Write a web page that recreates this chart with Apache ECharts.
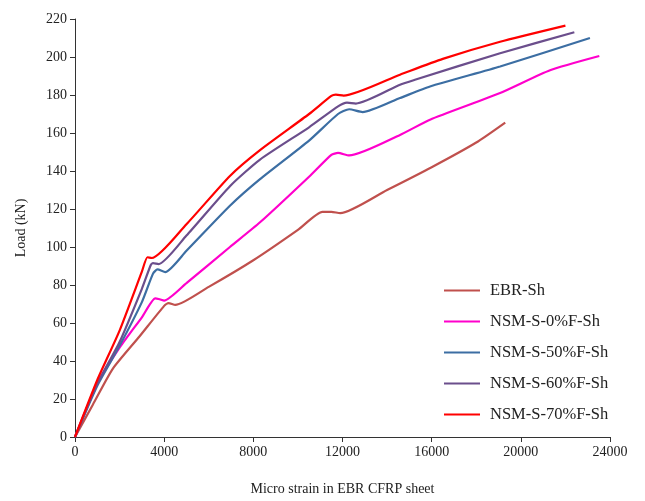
<!DOCTYPE html>
<html><head><meta charset="utf-8">
<script src="https://cdn.jsdelivr.net/npm/echarts@6/dist/echarts.min.js"></script>
<style>html,body{margin:0;padding:0;background:#fff}#c{width:645px;height:501px}</style>
</head><body><div id="c"></div>
<script>
var seriesNames = ['EBR-Sh','NSM-S-0%F-Sh','NSM-S-50%F-Sh','NSM-S-60%F-Sh','NSM-S-70%F-Sh'];
var xTicks = [0,4000,8000,12000,16000,20000,24000];
var yTicks = [0,20,40,60,80,100,120,140,160,180,200,220];
var ebr = [[0,0],[800,17],[1700,36],[2900,53],[4000,69],[4200,70.5],[4500,69.5],[6000,79],[8000,93],[10000,109],[11100,118.5],[11500,118.5],[11900,117.8],[14000,130],[16000,142],[18000,155],[19300,165.5]];
var nsm0 = [[0,0],[1000,28],[2000,47],[3000,63],[3600,73],[3800,72.5],[4000,71.8],[5000,81],[6950,100],[8300,113],[10500,137],[11500,148.5],[11800,149.5],[12300,148.2],[14580,159],[15925,167],[19070,181],[21310,193],[23520,200.5]];
var nsm50 = [[0,0],[1000,27],[2000,48],[3000,71],[3500,86],[3700,88.2],[4050,86.8],[5000,98],[6950,121.7],[8300,135.7],[10500,156],[11800,170],[12300,172.5],[12900,171],[14580,178.4],[15925,184.5],[19070,195],[23100,210]];
var nsm60 = [[0,0],[1000,28],[2000,50],[3000,78],[3400,90.5],[3500,91.5],[3750,91],[5000,106],[6950,132],[8300,146],[10500,163],[11800,174],[12200,176],[12600,175.5],[14580,185.4],[15250,188],[19070,202],[22400,213]];
var nsm70 = [[0,0],[1000,30],[2000,56],[3000,87],[3250,94.6],[3450,94.2],[5000,112],[6950,137.4],[8300,151],[10500,170],[11500,179.5],[11700,180.2],[12050,179.7],[14580,190.7],[16500,199],[19070,208],[22000,216.5]];
var colors = ['#C0504D','#FF00CC','#3C6EA3','#6B4E8C','#FF0000'];
var datasets = [ebr,nsm0,nsm50,nsm60,nsm70];
var font = 'Liberation Serif, Times New Roman, serif';
var chart = echarts.init(document.getElementById('c'));
chart.setOption({
  animation:false,
  backgroundColor:'#fff',
  grid:{left:75,right:35,top:19,bottom:62},
  legend:{
    orient:'vertical', left:444, top:282, padding:0, itemGap:14, itemWidth:36, itemHeight:15,
    icon:'path://M0,6 L36,6 L36,8 L0,8 Z',
    textStyle:{fontFamily:font,fontSize:16.5,color:'#222',padding:[0,0,0,5]},
    data:seriesNames
  },
  xAxis:{
    type:'value', min:0, max:24000, interval:4000,
    name:'Micro strain in EBR CFRP sheet', nameLocation:'middle', nameGap:45,
    nameTextStyle:{fontFamily:font,fontSize:14,color:'#222'},
    axisLine:{lineStyle:{color:'#333',width:1}},
    axisTick:{inside:false,length:5,lineStyle:{color:'#333'}},
    axisLabel:{fontFamily:font,fontSize:14,color:'#222',margin:8,formatter:function(v){return String(v);}},
    splitLine:{show:false}
  },
  yAxis:{
    type:'value', min:0, max:220, interval:20,
    name:'Load (kN)', nameLocation:'middle', nameGap:47, nameRotate:90,
    nameTextStyle:{fontFamily:font,fontSize:14,color:'#222'},
    axisLine:{show:true,lineStyle:{color:'#333',width:1}},
    axisTick:{show:true,inside:false,length:5,lineStyle:{color:'#333'}},
    axisLabel:{fontFamily:font,fontSize:14,color:'#222',margin:8},
    splitLine:{show:false}
  },
  series: datasets.map(function(d,i){
    return {name:seriesNames[i], type:'line', data:d, smooth:0.2, showSymbol:false,
      lineStyle:{color:colors[i],width:2.2}, itemStyle:{color:colors[i]}};
  })
});
</script></body></html>
